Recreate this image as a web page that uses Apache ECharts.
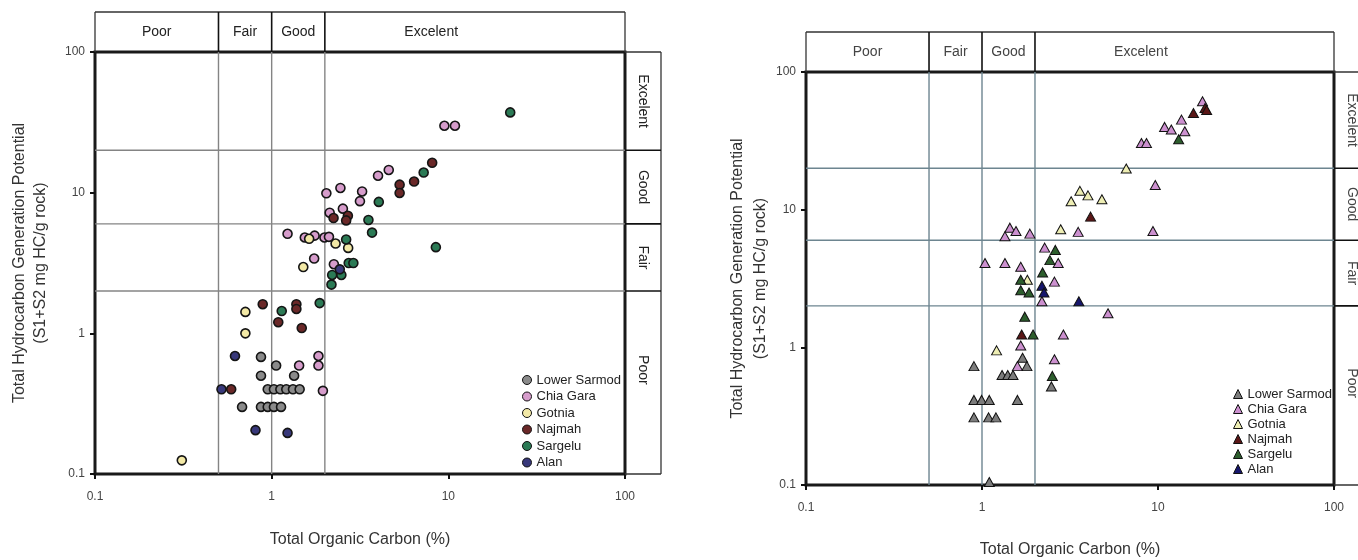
<!DOCTYPE html>
<html>
<head>
<meta charset="utf-8">
<script src="https://cdn.jsdelivr.net/npm/echarts@6/dist/echarts.min.js"></script>
<style>
html, body { margin: 0; padding: 0; background: #fff; }
#chart { width: 1358px; height: 560px; }
</style>
</head>
<body>
<div id="chart"></div>
<script>
// class limits (TOC % on x, S1+S2 on y) and labels
const tocLimits = [0.5, 1, 2];
const hcLimits = [2, 6, 20];
const classNames = ['Poor', 'Fair', 'Good', 'Excelent'];
const formations = ['Lower Sarmod', 'Chia Gara', 'Gotnia', 'Najmah', 'Sargelu', 'Alan'];

// left panel (circles): [TOC, S1+S2]
const lowerSarmodA = [[0.87,0.68],[1.06,0.59],[0.87,0.50],[1.34,0.50],[0.95,0.40],[1.03,0.40],[1.12,0.40],[1.21,0.40],[1.32,0.40],[1.44,0.40],[0.68,0.30],[0.87,0.30],[0.95,0.30],[1.03,0.30],[1.13,0.30]];
const chiaGaraA = [[9.5,29.9],[10.9,29.9],[4.6,14.5],[4.0,13.2],[3.25,10.2],[3.16,8.7],[2.45,10.8],[2.04,9.9],[2.53,7.7],[2.13,7.2],[1.23,5.1],[1.54,4.8],[1.75,4.95],[1.99,4.8],[2.11,4.85],[1.74,3.4],[2.25,3.1],[1.43,0.59],[1.84,0.69],[1.84,0.59],[1.95,0.39]];
const gotniaA = [[1.63,4.7],[2.3,4.35],[2.71,4.05],[1.51,2.96],[0.71,1.42],[0.71,1.0],[0.31,0.125]];
const najmahA = [[8.1,16.3],[6.4,12.0],[5.3,11.4],[5.3,9.95],[2.24,6.6],[2.7,6.85],[2.64,6.35],[0.89,1.61],[1.38,1.61],[1.38,1.49],[1.09,1.2],[1.48,1.09],[0.59,0.40]];
const sargeluA = [[22.4,37.2],[7.25,13.9],[4.04,8.6],[3.53,6.4],[3.7,5.2],[8.5,4.1],[2.64,4.65],[2.73,3.16],[2.9,3.16],[2.2,2.6],[2.48,2.6],[2.18,2.22],[1.87,1.64],[1.14,1.44]];
const alanA = [[2.43,2.85],[0.52,0.40],[0.62,0.69],[0.81,0.205],[1.23,0.196]];

// right panel (triangles): [TOC, S1+S2]
const lowerSarmodB = [[0.90,0.73],[1.30,0.63],[1.40,0.63],[1.50,0.63],[1.70,0.84],[1.80,0.73],[2.48,0.52],[0.90,0.415],[0.995,0.415],[1.10,0.415],[1.59,0.415],[0.90,0.31],[1.09,0.31],[1.20,0.31],[1.10,0.105]];
const chiaGaraB = [[1.04,4.1],[1.35,4.1],[1.66,3.85],[1.44,7.4],[1.35,6.4],[1.56,7.0],[1.87,6.7],[3.52,6.9],[2.27,5.3],[2.71,4.1],[2.58,3.0],[2.19,2.16],[5.2,1.77],[2.9,1.24],[1.66,1.03],[2.58,0.82],[1.59,0.73],[9.65,15.1],[9.36,7.0],[8.05,30.5],[8.6,30.5],[10.9,39.9],[11.9,38.2],[14.2,37.1],[13.6,45.1],[17.9,61.3]];
const gotniaB = [[2.8,7.2],[3.21,11.5],[3.6,13.7],[4.0,12.7],[4.8,11.9],[6.6,19.9],[1.81,3.1],[1.21,0.95]];
const najmahB = [[4.14,8.9],[1.68,1.24],[15.9,50.4],[18.5,54.8],[18.9,53.0]];
const sargeluB = [[2.61,5.1],[2.43,4.3],[2.21,3.5],[1.66,3.1],[1.66,2.6],[1.85,2.5],[1.75,1.67],[1.95,1.24],[2.51,0.62],[13.1,32.5]];
const alanB = [[2.19,2.8],[2.25,2.5],[3.55,2.16]];

const dataA = [lowerSarmodA, chiaGaraA, gotniaA, najmahA, sargeluA, alanA];
const dataB = [lowerSarmodB, chiaGaraB, gotniaB, najmahB, sargeluB, alanB];
const colorsA = ['#8a8a8a', '#d69ccb', '#f3e9a6', '#6a2828', '#2b7a55', '#38387a'];
const colorsB = ['#7c7c7c', '#cc90cf', '#eeeeb4', '#5a1616', '#2d5e2d', '#16166c'];

const FONT = '"Liberation Sans", Arial, sans-serif';
const chart = echarts.init(document.getElementById('chart'));

function logAxis(gi, isY, name, gap, lh) {
    return {
        type: 'log', logBase: 10, min: 0.1, max: 100, gridIndex: gi,
        name: name, nameLocation: 'middle', nameGap: gap,
        nameTextStyle: { fontSize: 16, color: '#333', fontFamily: FONT, lineHeight: lh },
        axisLine: { show: false },
        axisTick: { show: true, length: 5, lineStyle: { color: '#111', width: 2 } },
        minorTick: { show: false },
        splitLine: { show: false },
        axisLabel: {
            fontSize: 12, color: '#444', fontFamily: FONT, margin: isY ? 10 : 17,
            formatter: v => String(+Number(v).toPrecision(3))
        }
    };
}

const yTitle = 'Total Hydrocarbon Generation Potential\n(S1+S2 mg HC/g rock)';

function legendFor(left, top, colors, icon, lh, gap) {
    return {
        orient: 'vertical', left: left, top: top,
        itemWidth: 9, itemHeight: 9, itemGap: gap,
        textStyle: { fontSize: 13, color: '#222', fontFamily: FONT, lineHeight: lh },
        data: formations.map((n, i) => ({
            name: n, icon: icon,
            itemStyle: { color: colors[i], borderColor: '#111', borderWidth: 1 }
        }))
    };
}

const series = [];
formations.forEach((n, i) => {
    series.push({
        name: n, type: 'scatter', xAxisIndex: 0, yAxisIndex: 0, z: 5,
        symbol: 'circle', symbolSize: 9, data: dataA[i],
        itemStyle: { color: colorsA[i], borderColor: '#151515', borderWidth: 1.6, opacity: 1 }
    });
});
formations.forEach((n, i) => {
    series.push({
        name: n, type: 'scatter', xAxisIndex: 1, yAxisIndex: 1, z: 5,
        symbol: 'triangle', symbolSize: [10, 9], data: dataB[i],
        itemStyle: { color: colorsB[i], borderColor: '#111', borderWidth: 1, opacity: 1 }
    });
});

chart.setOption({
    animation: false,
    backgroundColor: '#fff',
    grid: [
        { left: 95, top: 52, width: 530, height: 422, containLabel: false, outerBoundsMode: 'none', show: true, borderColor: '#1a1a1a', borderWidth: 3, backgroundColor: 'transparent' },
        { left: 806, top: 72, width: 528, height: 413, containLabel: false, outerBoundsMode: 'none', show: true, borderColor: '#1a1a1a', borderWidth: 3, backgroundColor: 'transparent' }
    ],
    xAxis: [
        logAxis(0, false, 'Total Organic Carbon (%)', 56, 20),
        logAxis(1, false, 'Total Organic Carbon (%)', 55, 20)
    ],
    yAxis: [
        logAxis(0, true, yTitle, 44, 21),
        logAxis(1, true, yTitle, 33, 23)
    ],
    legend: [
        legendFor(517, 368, colorsA, 'circle', 14, 2.5),
        legendFor(1228, 382, colorsB, 'triangle', 14, 1)
    ],
    series: series
});

// class boxes and guide lines, placed through the axes
function panelGraphics(gi, gridColor, textColor) {
    const p = (x, y) => chart.convertToPixel({ gridIndex: gi }, [x, y]);
    const [x0, yBot] = p(0.1, 0.1);
    const [x1, yTop] = p(100, 100);
    const headTop = yTop - 40;
    const boxRight = x1 + 36;
    const els = [];
    const line = (xa, ya, xb, yb, color, w) => els.push({
        type: 'line', silent: true, z: 1,
        shape: { x1: xa, y1: ya, x2: xb, y2: yb },
        style: { stroke: color, lineWidth: w }
    });
    const text = (x, y, s, rot) => els.push({
        type: 'text', silent: true, z: 2, x: x, y: y, rotation: rot || 0,
        style: { text: s, fill: textColor, font: '14px ' + FONT, textAlign: 'center', textVerticalAlign: 'middle', align: 'center', verticalAlign: 'middle' }
    });
    // header row
    line(x0, headTop, x1, headTop, '#333', 1.3);
    line(x0, headTop, x0, yTop, '#333', 1.3);
    line(x1, headTop, x1, yTop, '#333', 1.3);
    tocLimits.forEach(v => {
        const x = p(v, 1)[0];
        line(x, headTop, x, yTop, '#111', 1.6);
        line(x, yTop, x, yBot, gridColor, 1.4);
    });
    // side column
    line(x1, yTop, boxRight, yTop, '#333', 1.3);
    line(boxRight, yTop, boxRight, yBot, '#333', 1.3);
    line(x1, yBot, boxRight, yBot, '#333', 1.3);
    hcLimits.forEach(v => {
        const y = p(1, v)[1];
        line(x0, y, x1, y, gridColor, 1.4);
        line(x1, y, boxRight, y, '#111', 1.6);
    });
    // header labels
    const headMid = (headTop + yTop) / 2;
    const tocEdges = [0.1].concat(tocLimits);
    classNames.forEach((c, i) => {
        const cx = i < 3 ? Math.sqrt(tocEdges[i] * tocEdges[i + 1]) : 8;
        text(p(cx, 1)[0], headMid, c);
    });
    // side labels
    const sideMid = (x1 + boxRight) / 2;
    const hcEdges = [0.1].concat(hcLimits).concat([100]);
    classNames.forEach((c, i) => {
        const cy = i === 0 ? 0.55 : Math.sqrt(hcEdges[i] * hcEdges[i + 1]);
        text(sideMid, p(1, cy)[1], c, -Math.PI / 2);
    });
    return els;
}

chart.setOption({
    graphic: panelGraphics(0, '#848484', '#222').concat(panelGraphics(1, '#6d8590', '#444'))
});
</script>
</body>
</html>
